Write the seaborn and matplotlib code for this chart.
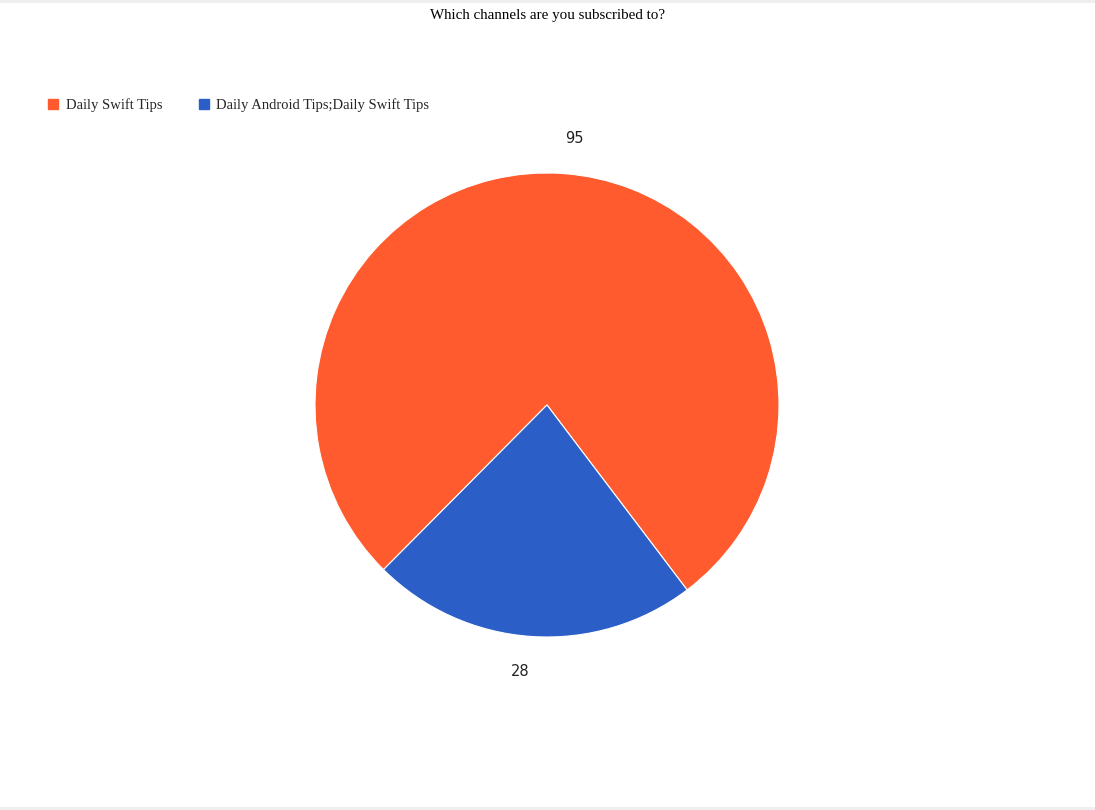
import matplotlib
matplotlib.use('Agg')
import matplotlib.pyplot as plt
import matplotlib.patches as mpatches
import seaborn as sns

# data
channels = ['Daily Swift Tips', 'Daily Android Tips;Daily Swift Tips']
subscribers = [95, 28]
colors = ['#ff5b2e', '#2c5ec7']
title = 'Which channels are you subscribed to?'

sns.set_theme(style='white')
plt.rcParams['font.family'] = ['Liberation Serif', 'DejaVu Serif']

fig = plt.figure(figsize=(10.95, 8.10), dpi=100)
ax = fig.add_axes([0, 0, 1, 1])

wedges, texts = ax.pie(
    subscribers,
    colors=colors,
    labels=[str(v) for v in subscribers],
    center=(547, 405),
    radius=232,
    startangle=225.2,
    counterclock=False,
    labeldistance=1.15,
    wedgeprops={'edgecolor': 'white', 'linewidth': 0.8},
    textprops={'fontsize': 10.5, 'family': 'DejaVu Sans', 'color': '#222222'},
    frame=True,
)
ax.set_xlim(0, 1095)
ax.set_ylim(0, 810)
ax.set_aspect('equal')
ax.axis('off')

# nudge the small-slice label the way the original renderer places it
x, y = texts[1].get_position()
texts[1].set_position((x - 18, y))

# light grey strips at top and bottom
ax.add_patch(mpatches.Rectangle((0, 807.5), 1095, 3, color='#efefef', lw=0))
ax.add_patch(mpatches.Rectangle((0, 0), 1095, 3.5, color='#efefef', lw=0))

fig.text(548 / 1095, 1 - 15 / 810, title, ha='center', va='center',
         fontsize=10.8, color='#000000')

handles = [mpatches.Patch(color=c, label=l) for c, l in zip(colors, channels)]
leg = fig.legend(handles=handles, loc='center left',
                 bbox_to_anchor=(35 / 1095, 1 - 105 / 810),
                 ncol=2, frameon=False, fontsize=10.5,
                 handlelength=0.7, handleheight=0.7, handletextpad=0.5,
                 columnspacing=2.5)

fig.savefig('out.png', dpi=100)
